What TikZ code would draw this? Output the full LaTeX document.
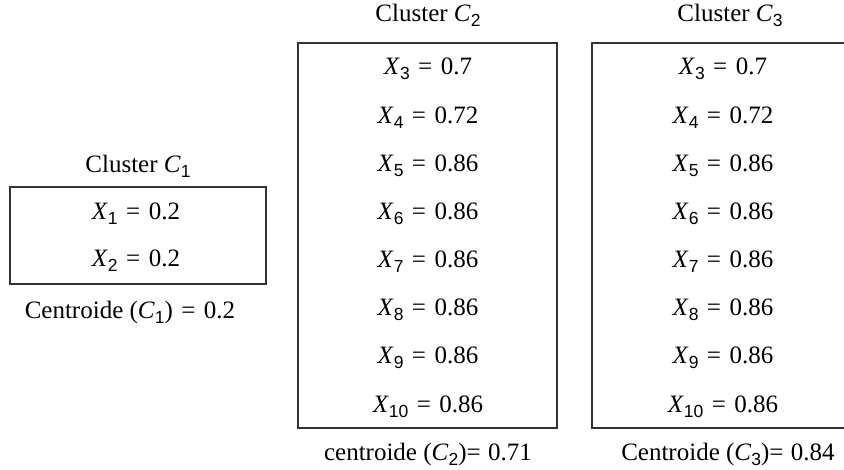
\documentclass[tikz,border=0pt]{standalone}
\usepackage{fontspec}
\setmainfont{Liberation Serif}
\newfontfamily\numsans{Liberation Sans}
\newcommand{\sbs}[1]{\raisebox{-0.2em}{\fontsize{17.5}{17.5}\selectfont\numsans #1}}
\newcommand{\xv}[2]{\textit{X}\sbs{#1}\hspace{0.34em}=\hspace{0.34em}#2}
\newcommand{\cc}[1]{\textit{C}\sbs{#1}}
\begin{document}
\begin{tikzpicture}[x=1pt,y=-1pt,
  every node/.style={font=\fontsize{25}{29}\selectfont, inner sep=0pt},
  box/.style={draw=black!80, line width=1.1pt},
  txt/.style={anchor=center}]
\useasboundingbox (0,0) rectangle (844,470);
% Cluster C1
\node[txt] (t1) at (138,166) {Cluster \cc{1}};
\draw[box] (10,187) rectangle (266,284);
\node[txt] (a1) at (136,214) {\xv{1}{0.2}};
\node[txt] (a2) at (136,261) {\xv{2}{0.2}};
\node[txt] (c1) at (130,312) {Centroide (\cc{1})\hspace{0.34em}=\hspace{0.34em}0.2};
% Cluster C2
\node[txt] (t2) at (428,15) {Cluster \cc{2}};
\draw[box] (298,43) rectangle (557,428);
\foreach \i/\v [count=\k from 0] in {3/0.7,4/0.72,5/0.86,6/0.86,7/0.86,8/0.86,9/0.86,10/0.86}
  \node[txt] (b\i) at (428,69+48.2*\k) {\xv{\i}{\v}};
\node[txt] (c2) at (428,454) {centroide (\cc{2})=\hspace{0.3em}0.71};
% Cluster C3
\node[txt] (t3) at (730,15) {Cluster \cc{3}};
\draw[box] (850,43) -- (592,43) -- (592,428) -- (850,428);
\foreach \i/\v [count=\k from 0] in {3/0.7,4/0.72,5/0.86,6/0.86,7/0.86,8/0.86,9/0.86,10/0.86}
  \node[txt] (d\i) at (723,69+48.2*\k) {\xv{\i}{\v}};
\node[txt] (c3) at (728,454) {Centroide (\cc{3})=\hspace{0.3em}0.84};
\end{tikzpicture}
\end{document}
